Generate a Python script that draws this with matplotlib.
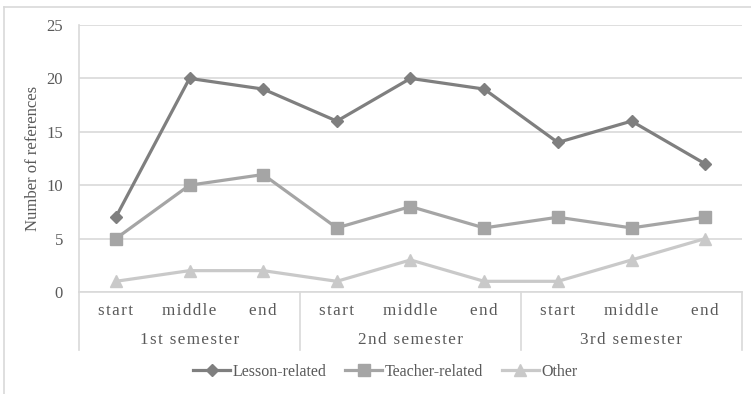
import matplotlib

matplotlib.use("Agg")
import matplotlib.pyplot as plt
from matplotlib.lines import Line2D
from matplotlib.transforms import blended_transform_factory

# number of references per time point
points = ["start", "middle", "end"] * 3
semesters = ["1st semester", "2nd semester", "3rd semester"]
lesson = [7, 20, 19, 16, 20, 19, 14, 16, 12]
teacher = [5, 10, 11, 6, 8, 6, 7, 6, 7]
other = [1, 2, 2, 1, 3, 1, 1, 3, 5]

TEXT = "#595959"
GRID = "#d9d9d9"
plt.rcParams["font.family"] = ["Liberation Serif", "DejaVu Serif"]


def spaced(s):
    # widen the letter spacing of category labels
    return "\u200a".join(s)


fig = plt.figure(figsize=(7.51, 3.94), dpi=100)
ax = fig.add_axes([79 / 751, 1 - 292 / 394, 663 / 751, 267 / 394])

x = list(range(len(points)))
series = [
    ("Lesson-related", lesson, "#7f7f7f", "D", 6),
    ("Teacher-related", teacher, "#a5a5a5", "s", 8.5),
    ("Other", other, "#c9c9c9", "^", 8),
]
for name, vals, color, marker, ms in series:
    ax.plot(x, vals, color=color, lw=2.3, marker=marker, ms=ms,
            markeredgecolor=color, label=name, zorder=3)

ax.set_xlim(-0.5, len(points) - 0.5)
ax.set_ylim(0, 25)
ax.set_yticks(range(0, 26, 5))
ax.yaxis.grid(True, color=GRID, lw=1.2)
ax.set_axisbelow(True)
ax.tick_params(axis="y", length=0, pad=11.5, labelsize=12, labelcolor=TEXT)
ax.tick_params(axis="x", length=0, labelbottom=False)
for side in ["top", "right"]:
    ax.spines[side].set_visible(False)
ax.spines["left"].set_color(GRID)
ax.spines["bottom"].set_color(GRID)
ax.spines["left"].set_linewidth(1.2)
ax.spines["bottom"].set_linewidth(1.2)
ax.set_ylabel("Number of references", fontsize=12, color=TEXT, labelpad=4)

# two-level category axis
trans = blended_transform_factory(ax.transData, ax.transAxes)
for i, p in enumerate(points):
    ax.text(i, -0.071, spaced(p), transform=trans, ha="center", va="center",
            fontsize=12.3, color=TEXT)
for g, sem in enumerate(semesters):
    ax.text(g * 3 + 1, -0.18, spaced(sem), transform=trans, ha="center",
            va="center", fontsize=12.3, color=TEXT)
for b in [-0.5, 2.5, 5.5, 8.5]:
    ax.plot([b, b], [0, -0.217], transform=trans, color=GRID, lw=1.2,
            clip_on=False)

fig.legend(loc="center", bbox_to_anchor=(0.513, 1 - 372 / 394), ncol=3,
           frameon=False, fontsize=11.5, labelcolor=TEXT, handlelength=2.3,
           handletextpad=0.15, columnspacing=1.2)

# chart border
fig.add_artist(Line2D([4 / 751, 4 / 751], [0, 1 - 7 / 394], color=GRID, lw=1.2))
fig.add_artist(Line2D([4 / 751, 1], [1 - 7 / 394, 1 - 7 / 394], color=GRID, lw=1.2))

fig.savefig("out.png", dpi=100, facecolor="white")
